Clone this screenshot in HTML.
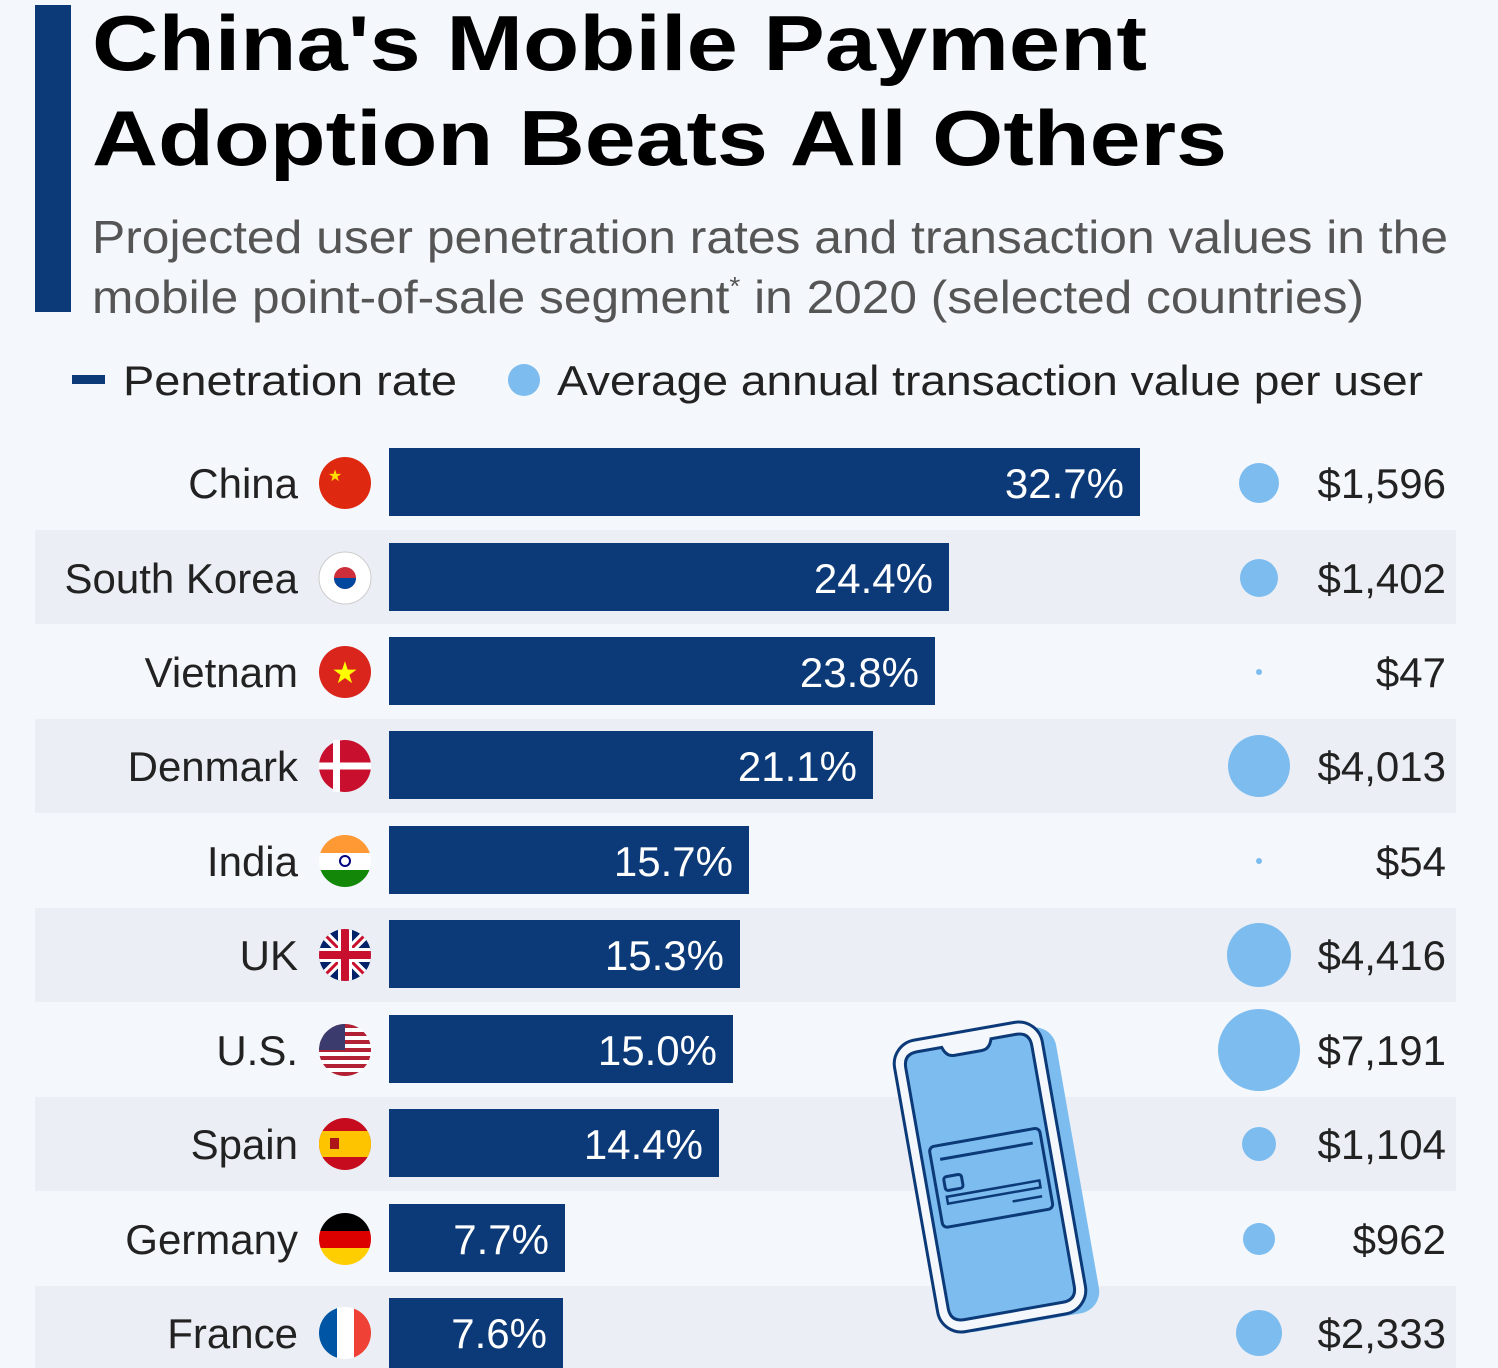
<!DOCTYPE html>
<html><head><meta charset="utf-8"><style>
html,body{margin:0;padding:0;background:#f4f7fb;}
svg{display:block;font-family:"Liberation Sans","DejaVu Sans",sans-serif;}
</style></head><body>
<svg width="1498" height="1368" viewBox="0 0 1498 1368" xmlns="http://www.w3.org/2000/svg">
<rect width="1498" height="1368" fill="#f4f7fb"/>
<rect x="35" y="5" width="36" height="307" fill="#0c3a78"/>
<text x="92" y="70" font-size="78" font-weight="bold" fill="#000" textLength="1055" lengthAdjust="spacingAndGlyphs">China's Mobile Payment</text>
<text x="92" y="165" font-size="78" font-weight="bold" fill="#000" textLength="1135" lengthAdjust="spacingAndGlyphs">Adoption Beats All Others</text>
<text x="92" y="253" font-size="46" fill="#555" textLength="1356" lengthAdjust="spacingAndGlyphs">Projected user penetration rates and transaction values in the</text>
<text x="92" y="313" font-size="46" fill="#555" textLength="1272" lengthAdjust="spacingAndGlyphs">mobile point-of-sale segment<tspan font-size="26" dy="-18">*</tspan><tspan dy="18"> in 2020 (selected countries)</tspan></text>
<rect x="72" y="375" width="33" height="9" fill="#0c3a78"/>
<text x="123" y="395" font-size="42" fill="#222" textLength="334" lengthAdjust="spacingAndGlyphs">Penetration rate</text>
<circle cx="524" cy="380" r="16" fill="#7dbcee"/>
<text x="557" y="395" font-size="42" fill="#222" textLength="866" lengthAdjust="spacingAndGlyphs">Average annual transaction value per user</text>

<g id="stripes" fill="#ebeff5">
<rect x="35" y="530" width="1421" height="94"/>
<rect x="35" y="719" width="1421" height="94"/>
<rect x="35" y="908" width="1421" height="94"/>
<rect x="35" y="1097" width="1421" height="94"/>
<rect x="35" y="1286" width="1421" height="82"/>
</g>

<!-- phone -->
<g transform="translate(990,1177) rotate(-10)">
<rect x="-62" y="-140" width="150" height="290" rx="22" fill="#7dbcee"/>
<rect x="-75" y="-148" width="150" height="296" rx="24" fill="#f4f7fb" stroke="#0c3a78" stroke-width="3"/>
<path d="M-50,-136 L-25,-136 Q-22,-126 -14,-126 L14,-126 Q22,-126 25,-136 L50,-136 Q64,-136 64,-122 L64,122 Q64,136 50,136 L-50,136 Q-64,136 -64,122 L-64,-122 Q-64,-136 -50,-136 Z" fill="#7dbcee" stroke="#0c3a78" stroke-width="3"/>
<rect x="-55" y="-40" width="112" height="82" rx="5" fill="none" stroke="#0c3a78" stroke-width="3"/>
<line x1="-46" y1="-26" x2="48" y2="-26" stroke="#0c3a78" stroke-width="3"/>
<rect x="-46" y="-8" width="18" height="14" rx="3" fill="none" stroke="#0c3a78" stroke-width="3"/>
<rect x="-46" y="12" width="94" height="7" fill="none" stroke="#0c3a78" stroke-width="2.5"/>
<line x1="18" y1="28" x2="48" y2="28" stroke="#0c3a78" stroke-width="2.5"/>
</g>

<g font-size="42" fill="#222">
<!-- rows -->
<g transform="translate(0,483)">
<text x="298" y="15" text-anchor="end">China</text>
<circle cx="345" cy="0" r="26" fill="#de2910"/>
<text x="335" y="-2" font-size="16" fill="#ffde00" text-anchor="middle">★</text>
<rect x="389" y="-35" width="751" height="68" fill="#0c3a78"/>
<text x="1124" y="15" fill="#fff" text-anchor="end">32.7%</text>
<circle cx="1259" cy="0" r="20" fill="#7dbcee"/>
<text x="1446" y="15" text-anchor="end">$1,596</text>
</g>
<g transform="translate(0,578)">
<text x="298" y="15" text-anchor="end">South Korea</text>
<circle cx="345" cy="0" r="26" fill="#fff" stroke="#ccc"/>
<circle cx="345" cy="0" r="11" fill="#cd2e3a"/><path d="M334,0 A11,11 0 0 0 356,0 Z" fill="#0047a0"/>
<rect x="389" y="-35" width="560" height="68" fill="#0c3a78"/>
<text x="933" y="15" fill="#fff" text-anchor="end">24.4%</text>
<circle cx="1259" cy="0" r="19" fill="#7dbcee"/>
<text x="1446" y="15" text-anchor="end">$1,402</text>
</g>
<g transform="translate(0,672)">
<text x="298" y="15" text-anchor="end">Vietnam</text>
<circle cx="345" cy="0" r="26" fill="#da251d"/>
<text x="345" y="11" font-size="30" fill="#ffff00" text-anchor="middle">★</text>
<rect x="389" y="-35" width="546" height="68" fill="#0c3a78"/>
<text x="919" y="15" fill="#fff" text-anchor="end">23.8%</text>
<circle cx="1259" cy="0" r="3" fill="#7dbcee"/>
<text x="1446" y="15" text-anchor="end">$47</text>
</g>
<g transform="translate(0,766)">
<text x="298" y="15" text-anchor="end">Denmark</text>
<circle cx="345" cy="0" r="26" fill="#c8102e"/>
<rect x="333" y="-26" width="7" height="52" fill="#fff"/><rect x="319" y="-3.5" width="52" height="7" fill="#fff"/>
<rect x="389" y="-35" width="484" height="68" fill="#0c3a78"/>
<text x="857" y="15" fill="#fff" text-anchor="end">21.1%</text>
<circle cx="1259" cy="0" r="31" fill="#7dbcee"/>
<text x="1446" y="15" text-anchor="end">$4,013</text>
</g>
<g transform="translate(0,861)">
<text x="298" y="15" text-anchor="end">India</text>
<clipPath id="ci"><circle cx="345" cy="0" r="26"/></clipPath>
<g clip-path="url(#ci)"><rect x="319" y="-26" width="52" height="18" fill="#ff9933"/><rect x="319" y="-8" width="52" height="17" fill="#fff"/><rect x="319" y="9" width="52" height="18" fill="#138808"/></g>
<circle cx="345" cy="0" r="5" fill="none" stroke="#000080" stroke-width="2"/>
<rect x="389" y="-35" width="360" height="68" fill="#0c3a78"/>
<text x="733" y="15" fill="#fff" text-anchor="end">15.7%</text>
<circle cx="1259" cy="0" r="3" fill="#7dbcee"/>
<text x="1446" y="15" text-anchor="end">$54</text>
</g>
<g transform="translate(0,955)">
<text x="298" y="15" text-anchor="end">UK</text>
<clipPath id="cu"><circle cx="345" cy="0" r="26"/></clipPath>
<g clip-path="url(#cu)"><rect x="319" y="-26" width="52" height="52" fill="#012169"/>
<path d="M319,-26 L371,26 M371,-26 L319,26" stroke="#fff" stroke-width="9"/>
<path d="M319,-26 L371,26 M371,-26 L319,26" stroke="#c8102e" stroke-width="3"/>
<rect x="338" y="-26" width="14" height="52" fill="#fff"/><rect x="319" y="-7" width="52" height="14" fill="#fff"/>
<rect x="341" y="-26" width="8" height="52" fill="#c8102e"/><rect x="319" y="-4" width="52" height="8" fill="#c8102e"/></g>
<rect x="389" y="-35" width="351" height="68" fill="#0c3a78"/>
<text x="724" y="15" fill="#fff" text-anchor="end">15.3%</text>
<circle cx="1259" cy="0" r="32" fill="#7dbcee"/>
<text x="1446" y="15" text-anchor="end">$4,416</text>
</g>
<g transform="translate(0,1050)">
<text x="298" y="15" text-anchor="end">U.S.</text>
<clipPath id="cs"><circle cx="345" cy="0" r="26"/></clipPath>
<g clip-path="url(#cs)"><rect x="319" y="-26" width="52" height="52" fill="#fff"/>
<rect x="319" y="-26" width="52" height="4" fill="#b22234"/><rect x="319" y="-18" width="52" height="4" fill="#b22234"/><rect x="319" y="-10" width="52" height="4" fill="#b22234"/><rect x="319" y="-2" width="52" height="4" fill="#b22234"/><rect x="319" y="6" width="52" height="4" fill="#b22234"/><rect x="319" y="14" width="52" height="4" fill="#b22234"/><rect x="319" y="22" width="52" height="4" fill="#b22234"/>
<rect x="319" y="-26" width="26" height="26" fill="#3c3b6e"/></g>
<rect x="389" y="-35" width="344" height="68" fill="#0c3a78"/>
<text x="717" y="15" fill="#fff" text-anchor="end">15.0%</text>
<circle cx="1259" cy="0" r="41" fill="#7dbcee"/>
<text x="1446" y="15" text-anchor="end">$7,191</text>
</g>
<g transform="translate(0,1144)">
<text x="298" y="15" text-anchor="end">Spain</text>
<clipPath id="ce"><circle cx="345" cy="0" r="26"/></clipPath>
<g clip-path="url(#ce)"><rect x="319" y="-26" width="52" height="52" fill="#c60b1e"/><rect x="319" y="-13" width="52" height="26" fill="#ffc400"/></g>
<rect x="330" y="-6" width="9" height="11" fill="#ad1519"/>
<rect x="389" y="-35" width="330" height="68" fill="#0c3a78"/>
<text x="703" y="15" fill="#fff" text-anchor="end">14.4%</text>
<circle cx="1259" cy="0" r="17" fill="#7dbcee"/>
<text x="1446" y="15" text-anchor="end">$1,104</text>
</g>
<g transform="translate(0,1239)">
<text x="298" y="15" text-anchor="end">Germany</text>
<clipPath id="cg"><circle cx="345" cy="0" r="26"/></clipPath>
<g clip-path="url(#cg)"><rect x="319" y="-26" width="52" height="18" fill="#000"/><rect x="319" y="-8" width="52" height="17" fill="#dd0000"/><rect x="319" y="9" width="52" height="18" fill="#ffce00"/></g>
<rect x="389" y="-35" width="176" height="68" fill="#0c3a78"/>
<text x="549" y="15" fill="#fff" text-anchor="end">7.7%</text>
<circle cx="1259" cy="0" r="16" fill="#7dbcee"/>
<text x="1446" y="15" text-anchor="end">$962</text>
</g>
<g transform="translate(0,1333)">
<text x="298" y="15" text-anchor="end">France</text>
<clipPath id="cf"><circle cx="345" cy="0" r="26"/></clipPath>
<g clip-path="url(#cf)"><rect x="319" y="-26" width="18" height="52" fill="#0055a4"/><rect x="337" y="-26" width="17" height="52" fill="#fff"/><rect x="354" y="-26" width="18" height="52" fill="#ef4135"/></g>
<rect x="389" y="-35" width="174" height="70" fill="#0c3a78"/>
<text x="547" y="15" fill="#fff" text-anchor="end">7.6%</text>
<circle cx="1259" cy="0" r="23" fill="#7dbcee"/>
<text x="1446" y="15" text-anchor="end">$2,333</text>
</g>
</g>
</svg>
</body></html>
